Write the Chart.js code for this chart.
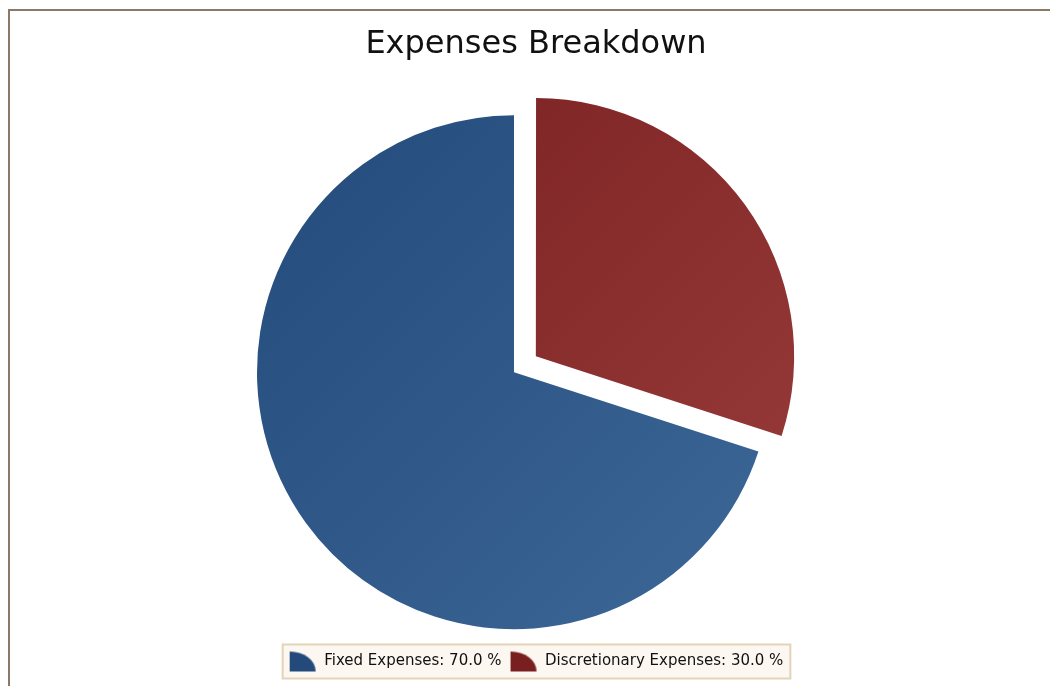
<!DOCTYPE html>
<html>
<head>
<meta charset="utf-8">
<title>Expenses Breakdown</title>
<script src="https://cdn.jsdelivr.net/npm/chart.js@4/dist/chart.umd.min.js"></script>
<style>
    html, body { margin: 0; padding: 0; background: #ffffff; }
    #wrap { position: relative; width: 1050px; height: 686px; }
    #frame {
        position: absolute; left: 8px; top: 9px; right: 0; bottom: 0;
        border-top: 2px solid #8c7866; border-left: 2px solid #8c7866;
    }
    canvas { position: absolute; left: 0; top: 0; }
</style>
</head>
<body>
<div id="wrap">
    <div id="frame"></div>
    <canvas id="expensesChart" width="1050" height="686"></canvas>
</div>
<script>
const categories = ['Fixed Expenses', 'Discretionary Expenses'];
const percentages = [70.0, 30.0];
const colorsDark = ['#234a7b', '#7a1f1f'];
const colorsLight = ['#3d6898', '#983c3c'];

// quarter-wedge swatch used in the legend
function wedgeIcon(color) {
    const c = document.createElement('canvas');
    c.width = 28;
    c.height = 22;
    const g = c.getContext('2d');
    g.fillStyle = color;
    g.beginPath();
    g.moveTo(1, 21);
    g.lineTo(1, 1);
    g.ellipse(1, 21, 26, 20, 0, -Math.PI / 2, 0, false);
    g.closePath();
    g.fill();
    return c;
}

function sliceGradient(ctx) {
    const chart = ctx.chart;
    const i = ctx.dataIndex;
    const area = chart.chartArea;
    if (!area) return colorsDark[i];
    const cx = (area.left + area.right) / 2;
    const cy = (area.top + area.bottom) / 2;
    const r = 260;
    const grad = chart.ctx.createLinearGradient(cx - r, cy - r, cx + r, cy + r);
    grad.addColorStop(0, colorsDark[i]);
    grad.addColorStop(1, colorsLight[i]);
    return grad;
}

// pie sits a little left of the centred title and legend
const pieShift = {
    id: 'pieShift',
    afterLayout(chart) {
        chart.chartArea.left -= 22;
        chart.chartArea.right -= 22;
    }
};

// cream box behind the legend items
const legendBox = {
    id: 'legendBox',
    beforeDraw(chart) {
        const lg = chart.legend;
        if (!lg || !lg.legendHitBoxes.length) return;
        const boxes = lg.legendHitBoxes;
        const first = boxes[0];
        const last = boxes[boxes.length - 1];
        const x = first.left - 6;
        const w = last.left + last.width - first.left + 13;
        const mid = first.top + first.height / 2;
        const c = chart.ctx;
        c.save();
        c.fillStyle = '#fcf8f1';
        c.fillRect(x, mid - 17, w, 34);
        c.strokeStyle = '#e3d4b8';
        c.lineWidth = 2;
        c.strokeRect(x, mid - 17, w, 34);
        c.restore();
    }
};

const total = percentages.reduce((a, b) => a + b, 0);
// the last slice starts at twelve o'clock, so the first one begins where it ends
const startAngle = 360 * percentages[percentages.length - 1] / total;

const ctx = document.getElementById('expensesChart').getContext('2d');
new Chart(ctx, {
    type: 'pie',
    data: {
        labels: categories,
        datasets: [{
            data: percentages,
            backgroundColor: sliceGradient,
            hoverBackgroundColor: sliceGradient,
            borderWidth: 0,
            // arc offset is scaled down by 4 when drawn -> 27px pull-out
            offset: [0, 108],
            hoverOffset: 0
        }]
    },
    plugins: [pieShift, legendBox],
    options: {
        responsive: false,
        animation: false,
        rotation: startAngle,
        radius: 257,
        layout: {
            padding: { left: 22, right: 0, top: 0, bottom: 7 }
        },
        plugins: {
            title: {
                display: true,
                text: 'Expenses Breakdown',
                color: '#111111',
                font: { family: 'DejaVu Sans', size: 32, weight: 'normal' },
                padding: { top: 25, bottom: 35 }
            },
            legend: {
                position: 'bottom',
                labels: {
                    usePointStyle: true,
                    pointStyleWidth: 28,
                    color: '#111111',
                    font: { family: 'DejaVu Sans', size: 15 },
                    padding: 8,
                    generateLabels(chart) {
                        return categories.map((name, i) => ({
                            text: name + ': ' + percentages[i].toFixed(1) + ' %',
                            pointStyle: wedgeIcon(colorsDark[i]),
                            fillStyle: colorsDark[i],
                            strokeStyle: colorsDark[i],
                            lineWidth: 0,
                            hidden: false,
                            index: i,
                            fontColor: '#111111'
                        }));
                    }
                }
            },
            tooltip: { enabled: false }
        }
    }
});
</script>
</body>
</html>
